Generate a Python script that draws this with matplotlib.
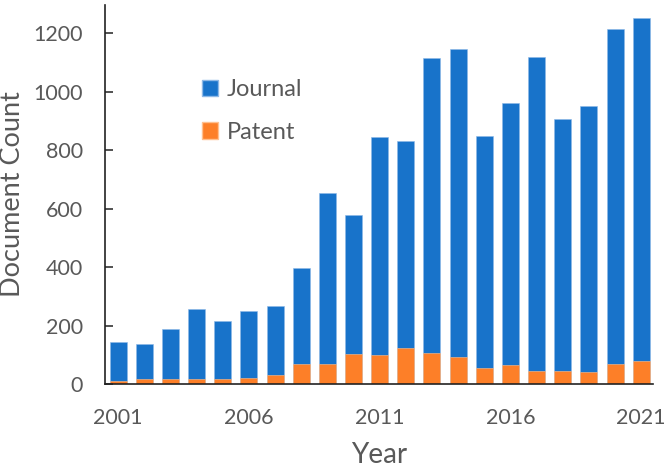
import matplotlib.pyplot as plt
from matplotlib.patches import Patch

years = list(range(2001, 2022))
journal = [143, 138, 187, 256, 217, 250, 267, 398, 655, 580, 845,
           831, 1116, 1146, 848, 960, 1118, 908, 952, 1214, 1251]
patent = [9, 17, 17, 17, 17, 21, 32, 67, 67, 104, 100,
          122, 106, 92, 54, 64, 46, 46, 41, 67, 79]
xticks = [2001, 2006, 2011, 2016, 2021]
yticks = [0, 200, 400, 600, 800, 1000, 1200]

blue = '#1873CA'
orange = '#FD7F28'
grey = '#595959'

plt.rcParams['font.family'] = ['Lato', 'DejaVu Sans']

fig = plt.figure(figsize=(6.66, 4.72), dpi=100)
ax = fig.add_axes([0.1577, 0.1864, 0.8228, 0.803])

# journal bars drawn to full height, patent bars on top of them at the base
ax.bar(years, journal, width=0.65, color=blue, edgecolor='#8DB8E6', linewidth=0.4)
ax.bar(years, patent, width=0.65, color=orange, edgecolor='#FFC08F', linewidth=0.4)

ax.set_xlim(2000.5, 2021.45)
ax.set_ylim(0, 1297)
ax.set_xticks(xticks)
ax.set_yticks(yticks)
ax.tick_params(axis='x', length=0, pad=17, labelsize=15.5, labelcolor=grey)
ax.tick_params(axis='y', direction='in', length=6, width=1.2, color='#333333',
               pad=16, labelsize=15.5, labelcolor=grey)

for s in ['top', 'right']:
    ax.spines[s].set_visible(False)
for s in ['left', 'bottom']:
    ax.spines[s].set_color('#222222')
    ax.spines[s].set_linewidth(1.2)

ax.set_xlabel('Year', fontsize=20, color=grey, labelpad=10)
ax.set_ylabel('Document Count', fontsize=19.5, color=grey)
ax.yaxis.set_label_coords(-0.146, 0.5)

handles = [Patch(facecolor=blue, edgecolor='#8DB8E6', label='Journal'),
           Patch(facecolor=orange, edgecolor='#FFC08F', label='Patent')]
leg = ax.legend(handles=handles, loc='upper left', bbox_to_anchor=(0.138, 0.86),
                frameon=False, fontsize=17, handlelength=0.7, handleheight=0.7,
                handletextpad=0.35, labelspacing=0.9)
for t in leg.get_texts():
    t.set_color(grey)

fig.savefig('out.png', dpi=100)
